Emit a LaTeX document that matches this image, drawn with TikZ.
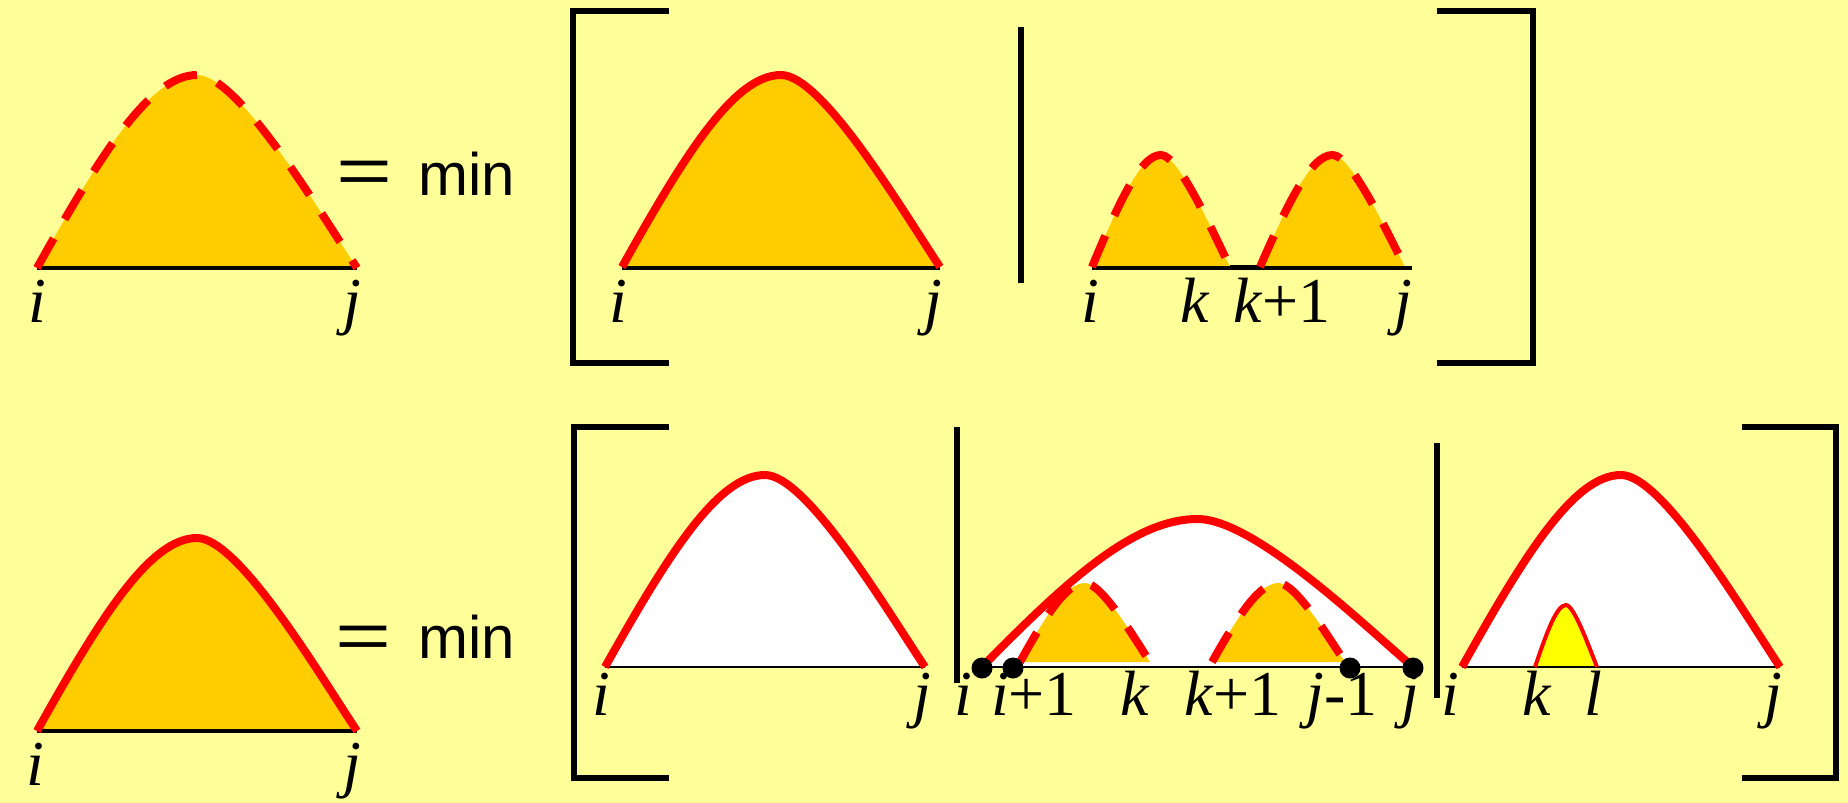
\documentclass[tikz,border=0pt]{standalone}
\usepackage{graphicx}
\usepackage{fontspec}
\setmainfont{Liberation Serif}
\newfontfamily\sansf{Liberation Sans}
\definecolor{bg}{HTML}{FFFF99}
\definecolor{org}{HTML}{FFCC00}
\definecolor{rd}{HTML}{FF0000}
\definecolor{yl}{HTML}{FFFF00}
\newcommand\humpcurve{(0,0) .. controls (0.197,-0.585) and (0.353,-1) .. (0.5,-1) .. controls (0.63,-1) and (0.88,-0.30) .. (1,0)}
% #1 fill colour, #2 x0, #3 width, #4 base y, #5 height
\newcommand\humpfill[5]{\begin{scope}[shift={(#2,#4)},xscale=#3,yscale=#5]\fill[#1] \humpcurve -- cycle;\end{scope}}
% #1 stroke style, #2 x0, #3 width, #4 base y, #5 height
\newcommand\humpdraw[5]{\begin{scope}[shift={(#2,#4)},xscale=#3,yscale=#5]\draw[#1] \humpcurve;\end{scope}}
\tikzset{
  solidred/.style={draw=rd,line width=8pt},
  dashred/.style={draw=rd,line width=8pt,dash pattern=on 34pt off 22pt},
  thinred/.style={draw=rd,line width=4pt},
  baseln/.style={draw=black,line width=3.2pt},
  baselnb/.style={draw=black,line width=2.8pt},
  brk/.style={draw=black,line width=6pt,line join=miter},
  divl/.style={draw=black,line width=5.5pt},
  lab/.style={anchor=base,inner sep=0pt,font=\fontsize{64}{64}\selectfont},
  eqs/.style={inner sep=0pt,font=\sansf\fontsize{60}{60}\selectfont},
  minl/.style={anchor=base west,inner sep=0pt,font=\sansf\fontsize{60}{60}\selectfont},
  dot/.style={circle,fill=black,inner sep=0pt,minimum size=21pt}
}
\begin{document}
\begin{tikzpicture}[x=1pt,y=-1pt]
\fill[bg] (0,0) rectangle (1848,803);
\useasboundingbox (0,0) rectangle (1848,803);

% ---------------- top row ----------------
\humpfill{org}{37}{320}{268}{193}
\draw[baseln] (37,268) -- (357,268);
\humpdraw{dashred}{37}{320}{268}{193}
\node[lab] (t1i) at (37,322) {\textit{i}};
\node[lab] (t1j) at (352,322) {\textit{j}};
\node[eqs] (teq) at (365,177) {\scalebox{1.6}[1.1]{=}};
\node[minl] (tmin) at (418,195) {min};

\draw[brk] (669,11) -- (573,11) -- (573,363) -- (669,363);
\draw[brk] (1437,11) -- (1533,11) -- (1533,363) -- (1437,363);
\draw[divl] (1021,27) -- (1021,283);

\humpfill{org}{622}{318}{267}{192}
\draw[baseln] (622,268) -- (940,268);
\humpdraw{solidred}{622}{318}{267}{192}
\node[lab] (t2i) at (618,322) {\textit{i}};
\node[lab] (t2j) at (933,322) {\textit{j}};

\humpfill{org}{1092}{138}{267}{112}
\humpfill{org}{1260}{145}{267}{112}
\draw[baseln] (1092,268) -- (1412,268);
\draw[line width=5pt] (1230,267) -- (1260,267);
\humpdraw{dashred}{1092}{138}{267}{112}
\humpdraw{dashred}{1260}{145}{267}{112}
\node[lab] (t3i) at (1090,322) {\textit{i}};
\node[lab] (t3k) at (1195,322) {\textit{k}};
\node[lab] (t3k1) at (1282,322) {\textit{k}+1};
\node[lab] (t3j) at (1403,322) {\textit{j}};

% ---------------- bottom row ----------------
\humpfill{org}{37}{320}{731}{193}
\draw[baseln] (37,731) -- (357,731);
\humpdraw{solidred}{37}{320}{731}{193}
\node[lab] (b1i) at (35,785) {\textit{i}};
\node[lab] (b1j) at (352,785) {\textit{j}};
\node[eqs] (beq) at (364,642) {\scalebox{1.6}[1.1]{=}};
\node[minl] (bmin) at (418,658) {min};

\draw[brk] (669,427) -- (574,427) -- (574,778) -- (669,778);
\draw[brk] (1742,427) -- (1836,427) -- (1836,778) -- (1742,778);
\draw[divl] (957,427) -- (957,683);
\draw[divl] (1437,443) -- (1437,698);

% A
\humpfill{white}{605}{320}{667}{192}
\draw[baselnb] (605,667) -- (925,667);
\humpdraw{solidred}{605}{320}{667}{192}
\node[lab] (bai) at (601,715) {\textit{i}};
\node[lab] (baj) at (922,715) {\textit{j}};

% B
\humpfill{white}{982}{431}{667}{148}
\humpfill{org}{1020}{130}{662}{79}
\humpfill{org}{1212}{133}{662}{79}
\draw[baselnb] (982,667) -- (1413,667);
\humpdraw{solidred}{982}{431}{667}{148}
\humpdraw{dashred}{1020}{130}{662}{79}
\humpdraw{dashred}{1212}{133}{662}{79}
\node[lab] (bbi) at (963,715) {\textit{i}};
\node[lab] (bbi1) at (1034,715) {\textit{i}+1};
\node[lab] (bbk) at (1135,715) {\textit{k}};
\node[lab] (bbk1) at (1233,715) {\textit{k}+1};
\node[lab] (bbj1) at (1342,715) {\textit{j}-1};
\node[lab] (bbj) at (1410,715) {\textit{j}};
\node[dot] (d1) at (982,668) {};
\node[dot] (d2) at (1013,668) {};
\node[dot] (d3) at (1350,668) {};
\node[dot] (d4) at (1413,668) {};

% C
\humpfill{white}{1462}{318}{667}{192}
\humpfill{yl}{1535}{62}{667}{62}
\draw[baselnb] (1462,667) -- (1780,667);
\humpdraw{solidred}{1462}{318}{667}{192}
\humpdraw{thinred}{1535}{62}{667}{62}
\node[lab] (bci) at (1450,715) {\textit{i}};
\node[lab] (bck) at (1537,715) {\textit{k}};
\node[lab] (bcl) at (1593,715) {\textit{l}};
\node[lab] (bcj) at (1773,715) {\textit{j}};
\end{tikzpicture}
\end{document}
